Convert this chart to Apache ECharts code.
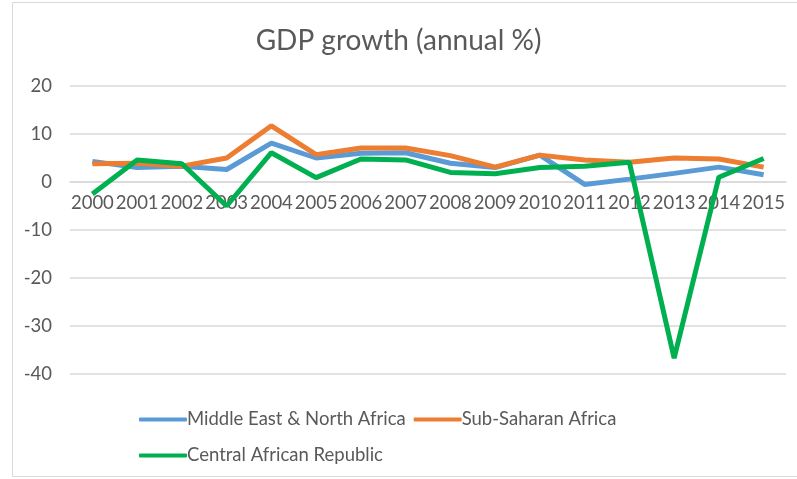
<!DOCTYPE html>
<html>
<head>
<meta charset="utf-8">
<script src="https://cdn.jsdelivr.net/npm/echarts@6/dist/echarts.min.js"></script>
<style>html,body{margin:0;padding:0;background:#fff}#c{width:797px;height:479px}</style>
</head>
<body>
<div id="c"></div>
<script>
const years = ['2000','2001','2002','2003','2004','2005','2006','2007','2008','2009','2010','2011','2012','2013','2014','2015'];
const mena = [4.3, 3.0, 3.3, 2.6, 8.1, 5.0, 6.0, 6.1, 3.9, 3.0, 5.6, -0.5, 0.6, 1.8, 3.1, 1.5];
const ssa  = [3.8, 3.9, 3.3, 5.0, 11.7, 5.7, 7.1, 7.1, 5.5, 3.1, 5.6, 4.6, 4.1, 5.0, 4.8, 3.1];
const car  = [-2.5, 4.6, 3.8, -5.0, 6.1, 0.9, 4.8, 4.6, 2.0, 1.7, 3.0, 3.3, 4.1, -36.7, 1.0, 4.9];
const yTicks = {min: -40, max: 20, interval: 10};

const font = 'Lato, "Open Sans", sans-serif';
const txt = '#595959';
const chart = echarts.init(document.getElementById('c'));
chart.setOption({
  animation: false,
  graphic: [{type:'rect', shape:{x:12.5, y:2.5, width:800, height:474}, style:{fill:'none', stroke:'#d9d9d9', lineWidth:1}, silent:true}],
  title: {text: 'GDP growth (annual %)', left: 'center', top: 22, textStyle: {fontFamily: font, fontSize: 28, fontWeight: 'normal', color: txt}},
  legend: [
    {data: ['Middle East & North Africa', 'Sub-Saharan Africa'], left: 139, top: 410, padding: 0, itemWidth: 48, itemHeight: 4, itemGap: 8, icon: 'roundRect',
     textStyle: {fontFamily: font, fontSize: 18.5, color: txt, padding:[0,0,0,-5]}},
    {data: ['Central African Republic'], left: 139, top: 446, padding: 0, itemWidth: 48, itemHeight: 4, icon: 'roundRect',
     textStyle: {fontFamily: font, fontSize: 18.5, color: txt, padding:[0,0,0,-5]}}
  ],
  grid: {left: 70, right: 11, top: 86, bottom: 105},
  xAxis: {type: 'category', data: years, boundaryGap: true, offset: -192,
    axisLine: {onZero: false, lineStyle: {color: '#d9d9d9', width: 1.5}}, axisTick: {show: false},
    axisLabel: {fontFamily: font, fontSize: 18.5, color: txt, margin: 12, interval: 0}},
  yAxis: {type: 'value', min: yTicks.min, max: yTicks.max, interval: yTicks.interval,
    axisLine: {show: false}, axisTick: {show: false},
    splitLine: {lineStyle: {color: '#d9d9d9', width: 1.5}},
    axisLabel: {fontFamily: font, fontSize: 18.5, color: txt, margin: 18}},
  series: [
    {name: 'Middle East & North Africa', type: 'line', data: mena, symbol: 'none', lineStyle: {width: 5, color: '#5B9BD5'}, itemStyle: {color: '#5B9BD5'}},
    {name: 'Sub-Saharan Africa', type: 'line', data: ssa, symbol: 'none', lineStyle: {width: 5, color: '#ED7D31'}, itemStyle: {color: '#ED7D31'}},
    {name: 'Central African Republic', type: 'line', data: car, symbol: 'none', lineStyle: {width: 5, color: '#00B050'}, itemStyle: {color: '#00B050'}}
  ]
});
</script>
</body>
</html>
